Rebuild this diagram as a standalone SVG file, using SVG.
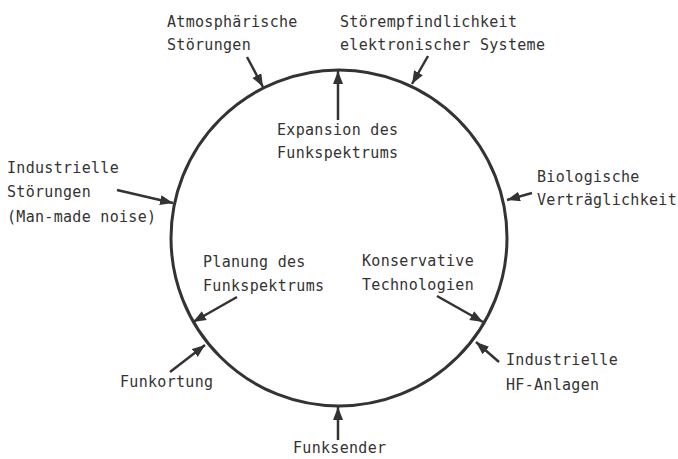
<svg xmlns="http://www.w3.org/2000/svg" width="678" height="459" viewBox="0 0 678 459">
<style>
text{font-family:"DejaVu Sans Mono","Liberation Mono",monospace;font-size:15px;letter-spacing:0.3px;fill:#333}
.c{fill:none;stroke:#333;stroke-width:3}
.a{fill:none;stroke:#333;stroke-width:2.5;marker-end:url(#ah)}
</style>
<defs>
<marker id="ah" markerUnits="userSpaceOnUse" markerWidth="14" markerHeight="12" refX="13" refY="5" orient="auto">
<path d="M0,0 L13,5 L0,10 Z" fill="#333"/>
</marker>
</defs>
<g id="kreis"><circle class="c" cx="339" cy="238" r="168"/></g>
<g id="connectors">
<line class="a" x1="247" y1="57" x2="263" y2="87"/>
<line class="a" x1="428" y1="56" x2="412" y2="84"/>
<line class="a" x1="338" y1="120" x2="338" y2="71"/>
<line class="a" x1="117" y1="190" x2="173" y2="203"/>
<line class="a" x1="532" y1="193" x2="507" y2="200"/>
<line class="a" x1="237" y1="297" x2="193" y2="322"/>
<line class="a" x1="437" y1="296" x2="483" y2="322"/>
<line class="a" x1="170" y1="372" x2="205" y2="345"/>
<line class="a" x1="499" y1="362" x2="476" y2="342"/>
<line class="a" x1="338" y1="440" x2="338" y2="407"/>
</g>
<g id="atmos"><text x="167" y="27">Atmosphärische</text><text x="167" y="50">Störungen</text></g>
<g id="stoerempf"><text x="340" y="27">Störempfindlichkeit</text><text x="340" y="50">elektronischer Systeme</text></g>
<g id="expansion"><text x="277" y="135">Expansion des</text><text x="277" y="158">Funkspektrums</text></g>
<g id="industrie"><text x="7" y="173">Industrielle</text><text x="7" y="197">Störungen</text><text x="7" y="222">(Man-made noise)</text></g>
<g id="bio"><text x="537" y="182">Biologische</text><text x="537" y="205">Verträglichkeit</text></g>
<g id="planung"><text x="203" y="267">Planung des</text><text x="203" y="291">Funkspektrums</text></g>
<g id="konservativ"><text x="362" y="266">Konservative</text><text x="362" y="290">Technologien</text></g>
<g id="funkortung"><text x="120" y="387">Funkortung</text></g>
<g id="hf"><text x="506" y="365">Industrielle</text><text x="506" y="390">HF-Anlagen</text></g>
<g id="funksender"><text x="293" y="453">Funksender</text></g>
</svg>
